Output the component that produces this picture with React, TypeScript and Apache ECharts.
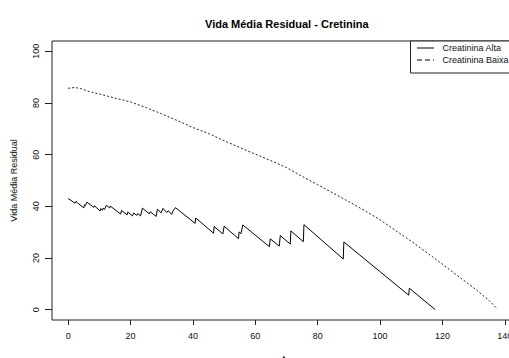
import React, { useEffect, useRef } from "react";
import * as echarts from "echarts";

const xTicks = [0, 20, 40, 60, 80, 100, 120, 140];
const yTicks = [0, 20, 40, 60, 80, 100];

const altaX = [0, 2.2, 2.5, 3.0, 5.0, 5.2, 5.5, 6.0, 8.2, 8.4, 10.2, 10.4, 11.0, 11.2, 11.7, 12.2, 13.3, 13.5, 16.8, 17.1, 18.9, 19.1, 20.6, 21.0, 22.0, 22.3, 23.2, 23.8, 26.0, 26.3, 28.2, 28.6, 29.8, 30.4, 31.6, 32.0, 33.2, 33.6, 34.4, 40.7, 40.9, 46.6, 46.8, 49.6, 50.0, 54.6, 54.8, 55.4, 56.0, 64.5, 64.8, 67.7, 68.0, 71.2, 71.4, 75.4, 75.6, 88.2, 88.4, 109.2, 109.4, 117.7];
const altaY = [43.0, 41.2, 41.9, 41.3, 39.4, 40.6, 40.3, 41.6, 39.6, 40.2, 38.2, 39.1, 38.5, 39.3, 38.8, 40.4, 39.4, 40.1, 37.0, 38.4, 36.7, 37.8, 36.3, 37.4, 36.5, 37.2, 36.3, 39.3, 37.1, 37.9, 36.1, 38.9, 37.5, 39.2, 37.6, 38.3, 36.9, 38.2, 39.5, 33.4, 35.5, 29.6, 32.2, 29.3, 32.3, 27.5, 30.1, 29.4, 32.8, 24.4, 27.4, 24.6, 28.7, 25.4, 30.5, 26.3, 32.9, 19.6, 26.2, 5.6, 8.3, 0];

const baixaX = [0, 2, 4, 6, 8, 10, 12.5, 15, 20, 25, 30, 35, 40, 45, 50, 55, 60, 65, 70, 75, 80, 85, 90, 95, 100, 105, 110, 115, 120, 125, 130, 135, 137.6];
const baixaY = [85.7, 86.0, 85.6, 84.7, 84.0, 83.5, 82.7, 81.9, 80.4, 78.2, 75.8, 73.2, 70.5, 68.2, 65.4, 62.8, 60.2, 57.7, 55.0, 51.6, 48.4, 45.1, 41.8, 38.4, 34.8, 30.6, 26.5, 22.1, 17.6, 13.0, 8.5, 3.5, 0.3];

const titleText = "Vida Média Residual - Cretinina";
const yName = "Vida Média Residual";
const xName = "t";
const seriesNames = ["Creatinina Alta", "Creatinina Baixa"];

const FONT = "'Liberation Sans', Arial, Helvetica, sans-serif";

export default function App() {
  const ref = useRef<HTMLDivElement>(null);
  useEffect(() => {
    if (!ref.current) return;
    document.body.style.overflow = "hidden";
    const chart = echarts.init(ref.current, null, { renderer: "svg" });
    const alta = altaX.map((x, i) => [x, altaY[i]]);
    const baixa = baixaX.map((x, i) => [x, baixaY[i]]);
    chart.setOption({
      animation: false,
      backgroundColor: "#ffffff",
      title: {
        text: titleText,
        left: 200,
        top: 13,
        textStyle: { fontFamily: FONT, fontSize: 11, fontWeight: "bold", color: "#000" },
      },
      grid: {
        left: 52,
        top: 41,
        width: 464,
        height: 279,
        containLabel: false,
        outerBoundsMode: "none",
        show: true,
        borderColor: "#222",
        borderWidth: 1,
        backgroundColor: "transparent",
      },
      xAxis: {
        type: "value",
        min: -5.2,
        max: 143.6,
        splitLine: { show: false },
        axisLine: { show: false, onZero: false },
        axisTick: { show: true, inside: false, length: 5, customValues: xTicks, lineStyle: { color: "#222" } },
        axisLabel: {
          customValues: xTicks,
          margin: 11,
          fontFamily: FONT,
          fontSize: 9,
          color: "#111",
        },
        name: xName,
        nameLocation: "middle",
        nameGap: 34,
        nameTextStyle: { fontFamily: FONT, fontSize: 10, color: "#111" },
      },
      yAxis: {
        type: "value",
        min: -4,
        max: 104,
        splitLine: { show: false },
        axisLine: { show: false, onZero: false },
        axisTick: { show: true, inside: false, length: 7, customValues: yTicks, lineStyle: { color: "#222" } },
        axisLabel: {
          customValues: yTicks,
          rotate: 90,
          margin: 12,
          fontFamily: FONT,
          fontSize: 9,
          color: "#111",
        },
        name: yName,
        nameLocation: "middle",
        nameRotate: 90,
        nameGap: 34,
        nameTextStyle: { fontFamily: FONT, fontSize: 9, color: "#111" },
      },
      series: [
        {
          name: seriesNames[0],
          type: "line",
          data: alta,
          showSymbol: false,
          symbol: "none",
          lineStyle: { color: "#000", width: 1, type: "solid" },
          clip: true,
        },
        {
          name: seriesNames[1],
          type: "line",
          data: baixa,
          showSymbol: false,
          symbol: "none",
          lineStyle: { color: "#222", width: 1, type: [2, 2] },
          clip: true,
        },
      ],
      graphic: [
        {
          type: "rect",
          shape: { x: 410.5, y: 41, width: 120, height: 32 },
          style: { fill: "#fff", stroke: "#222", lineWidth: 1 },
          z: 10,
        },
        {
          type: "line",
          shape: { x1: 417, y1: 48, x2: 434, y2: 48 },
          style: { stroke: "#000", lineWidth: 1 },
          z: 11,
        },
        {
          type: "line",
          shape: { x1: 417, y1: 60, x2: 434, y2: 60 },
          style: { stroke: "#000", lineWidth: 1, lineDash: [5, 3] },
          z: 11,
        },
        {
          type: "text",
          x: 442.5,
          y: 48,
          style: { text: seriesNames[0], font: `9px ${FONT}`, fill: "#111", textVerticalAlign: "middle", verticalAlign: "middle" },
          z: 11,
        },
        {
          type: "text",
          x: 442.5,
          y: 60,
          style: { text: seriesNames[1], font: `9px ${FONT}`, fill: "#111", textVerticalAlign: "middle", verticalAlign: "middle" },
          z: 11,
        },
      ],
    });
    return () => chart.dispose();
  }, []);
  return (
    <div
      ref={ref}
      style={{ position: "fixed", left: 0, top: 0, width: 530, height: 358, background: "#fff" }}
    />
  );
}
